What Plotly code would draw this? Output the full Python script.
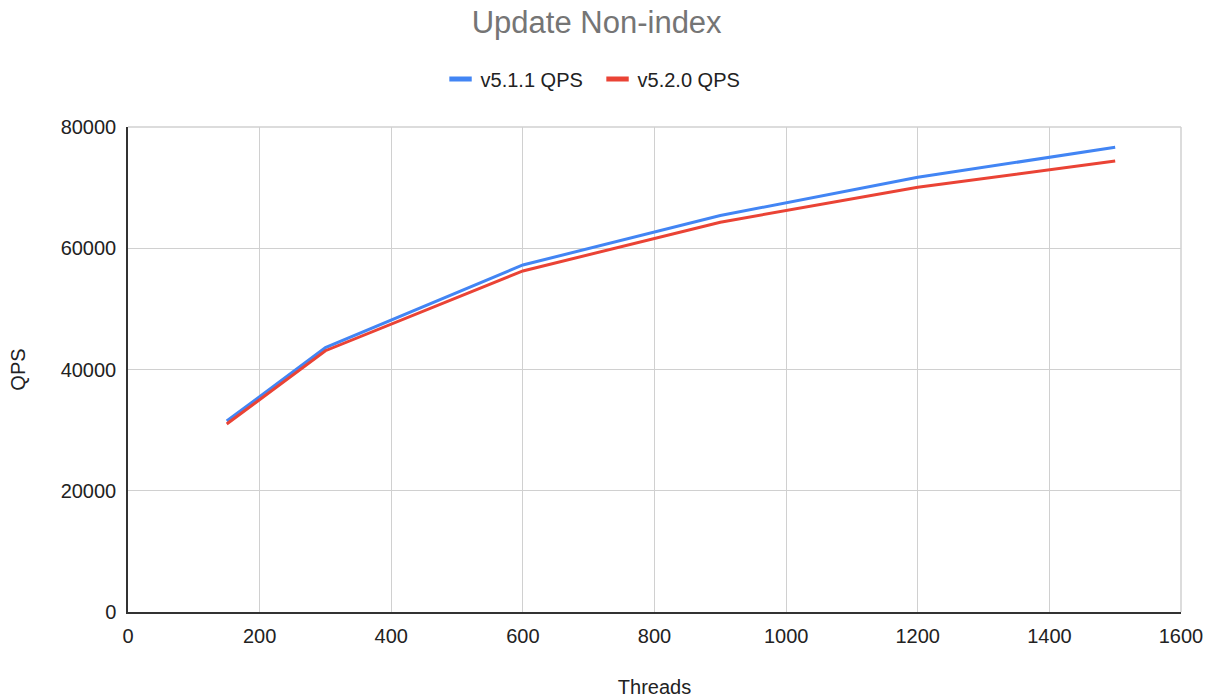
import plotly.graph_objects as go

threads = [150, 300, 600, 900, 1200, 1500]
v511_qps = [31500, 43600, 57240, 65400, 71700, 76650]
v520_qps = [31000, 43100, 56250, 64300, 70050, 74390]
series_names = ["v5.1.1 QPS", "v5.2.0 QPS"]
series_colors = ["#4285F4", "#EA4335"]

fig = go.Figure()
for name, ys, col in zip(series_names, [v511_qps, v520_qps], series_colors):
    fig.add_trace(go.Scatter(x=threads, y=ys, mode="lines", name=name,
                             line=dict(color=col, width=3), showlegend=False))
    # legend entry drawn as a short thick bar
    fig.add_trace(go.Scatter(x=[None], y=[None], mode="markers", name=name,
                             marker=dict(symbol="line-ew", size=16, color=col,
                                         line=dict(color=col, width=5)),
                             showlegend=True))

FONT = "Liberation Sans, Arial, sans-serif"
fig.update_layout(
    width=1214, height=698,
    margin=dict(l=128, r=33, t=127, b=86, autoexpand=False),
    paper_bgcolor="white", plot_bgcolor="white",
    font=dict(family=FONT, size=20, color="#222222"),
    title=dict(text="Update Non-index", xref="container", x=0.4915, xanchor="center",
               y=0.968, yanchor="middle",
               font=dict(family=FONT, size=31, color="#757575")),
    legend=dict(orientation="h", x=0.4459, xanchor="center",
                y=1.099, yanchor="middle", entrywidth=112, entrywidthmode="pixels",
                font=dict(size=20, color="#222222"), itemclick=False),
)
fig.update_xaxes(range=[0, 1600], dtick=200, tickformat="d", showgrid=True, gridcolor="#d0d0d0",
                 zeroline=False, showline=True, linecolor="#333333", linewidth=1.5,
                 ticks="", ticklabelstandoff=5, tickangle=0,
                 title=dict(text="Threads", standoff=36, font=dict(size=20)))
fig.update_yaxes(range=[0, 80000], dtick=20000, tickformat="d", showgrid=True, gridcolor="#d0d0d0",
                 zeroline=False, showline=True, linecolor="#333333", linewidth=1.5,
                 ticks="", ticklabelstandoff=6,
                 title=dict(text="QPS", standoff=30, font=dict(size=20)))
fig.add_shape(type="line", xref="paper", yref="paper", x0=1, x1=1, y0=0, y1=1,
              line=dict(color="#d0d0d0", width=1.5), layer="below")
fig.add_shape(type="line", xref="paper", yref="paper", x0=0, x1=1, y0=1, y1=1,
              line=dict(color="#d0d0d0", width=1.5), layer="below")

fig.write_html("out.html")
